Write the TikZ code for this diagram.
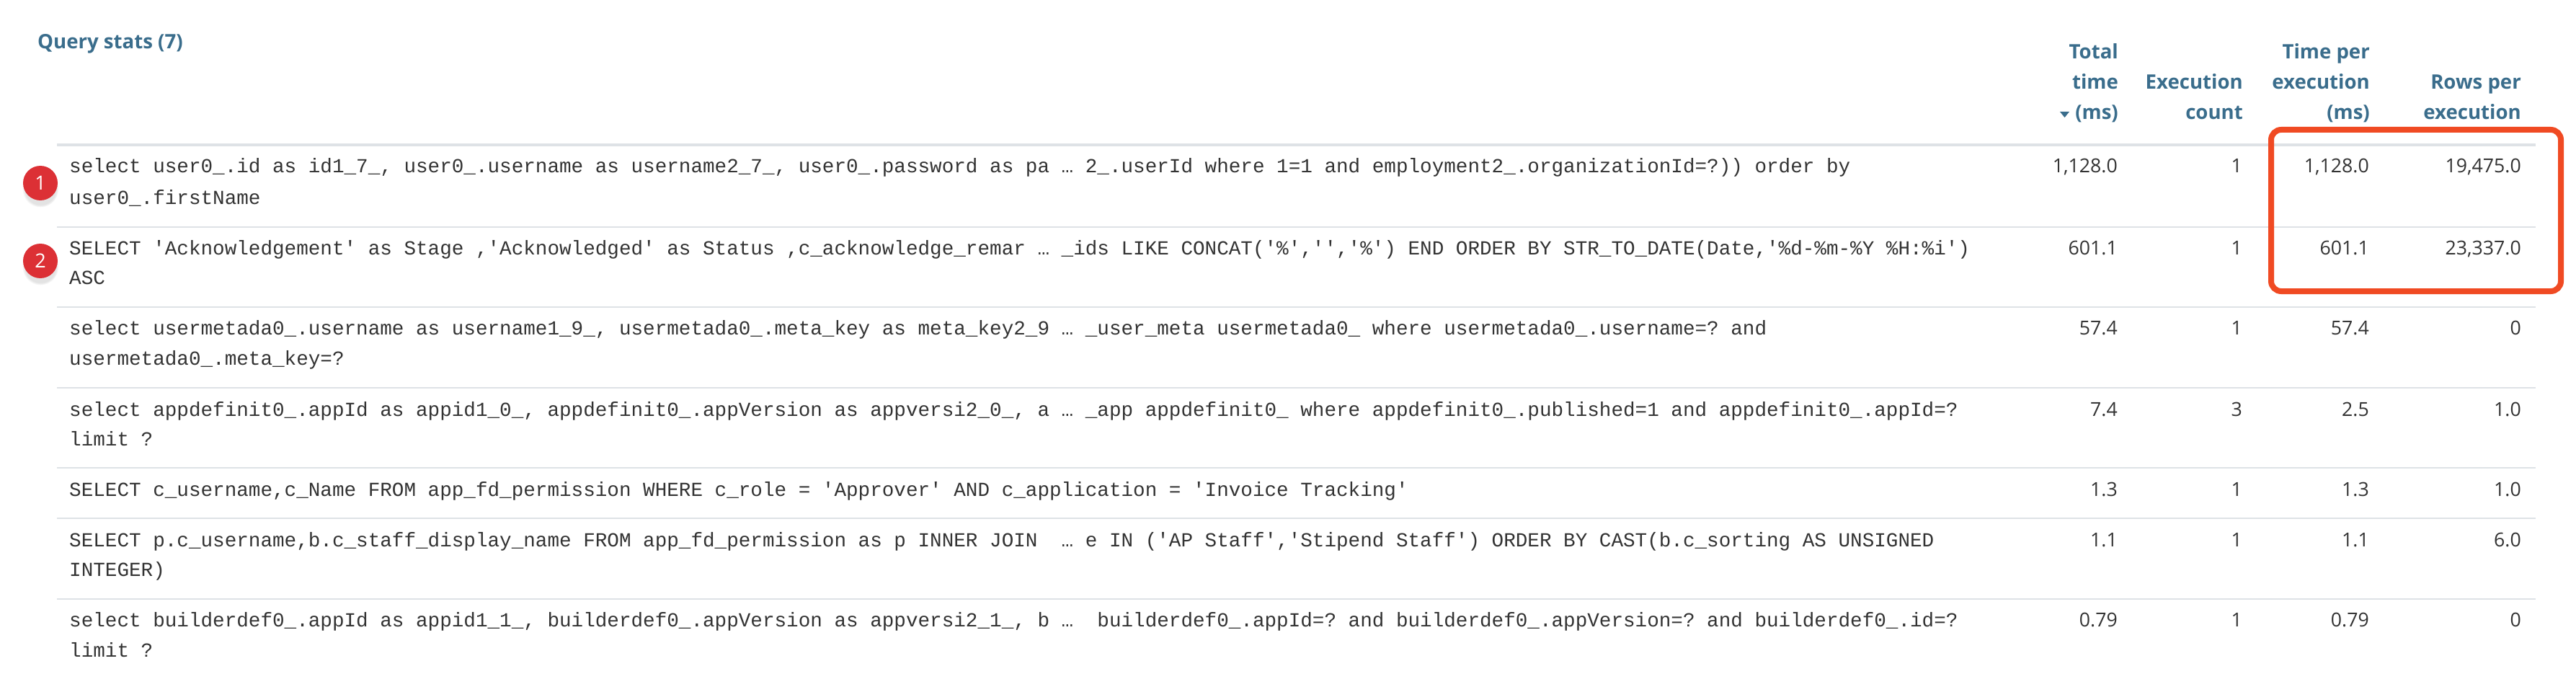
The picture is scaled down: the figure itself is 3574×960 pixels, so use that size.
\documentclass[tikz,border=0pt]{standalone}
\usepackage{fontspec}
\setmainfont{Open Sans}
\setmonofont[Ligatures=NoCommon]{Liberation Mono}
\usetikzlibrary{shadows}
\definecolor{headblue}{HTML}{3A6D8C}
\definecolor{rulegrey}{HTML}{DEE2E6}
\definecolor{bodygrey}{HTML}{333333}
\definecolor{boxred}{HTML}{F04A23}
\definecolor{badgered}{HTML}{DC3035}
\tikzset{
  x=1pt,y=-1pt,
  sqltext/.style={anchor=base west,inner sep=0pt,text=bodygrey,font=\fontsize{27.64}{42}\selectfont\ttfamily\frenchspacing},
  numtext/.style={anchor=base east,inner sep=0pt,text=bodygrey,font=\fontsize{26.7}{40}\selectfont},
  headtext/.style={anchor=base east,inner sep=0pt,text=headblue,font=\fontsize{27.6}{40}\selectfont\bfseries},
  thickrule/.style={draw=rulegrey,line width=4pt},
  thinrule/.style={draw=rulegrey,line width=2pt},
  badge/.style={circle,fill=badgered,text=white,inner sep=0pt,minimum size=48pt,font=\fontsize{27}{30}\selectfont,
    circular drop shadow={shadow xshift=0pt,shadow yshift=-8pt,shadow scale=1.05,opacity=.22}},
  highlight/.style={draw=boxred,line width=8pt,rounded corners=14pt},
}
\newcommand{\numrow}[6]{%
  \node[numtext] (n#1a) at (2938,#2) {#3};
  \node[numtext] (n#1b) at (3111,#2) {#4};
  \node[numtext] (n#1c) at (3287,#2) {#5};
  \node[numtext] (n#1d) at (3498,#2) {#6};
}
\begin{document}
\begin{tikzpicture}
\useasboundingbox (0,0) rectangle (3574,960);
\fill[white] (0,0) rectangle (3574,960);

\node[headtext,anchor=base west] (title) at (52,68) {Query stats (7)};

\node[headtext] (h1a) at (2939,82) {Total};
\node[headtext] (h1b) at (2939,124) {time};
\node[headtext] (h1c) at (2939,166) {(ms)};
\fill[headblue] (2858,155) -- (2871,155) -- (2864.5,163) -- cycle;
\node[headtext] (h2a) at (3112,124) {Execution};
\node[headtext] (h2b) at (3112,166) {count};
\node[headtext] (h3a) at (3288,82) {Time per};
\node[headtext] (h3b) at (3288,124) {execution};
\node[headtext] (h3c) at (3288,166) {(ms)};
\node[headtext] (h4a) at (3498,124) {Rows per};
\node[headtext] (h4b) at (3498,166) {execution};

\draw[thickrule] (79,201) -- (3518,201);
\foreach \yy in {315,426,538,649,719,831} \draw[thinrule] (79,\yy) -- (3518,\yy);

\node[sqltext] (r1a) at (96,240) {select user0\_.id as id1\_7\_, user0\_.username as username2\_7\_, user0\_.password as pa … 2\_.userId where 1=1 and employment2\_.organizationId=?)) order by};
\node[sqltext] (r1b) at (96,283) {user0\_.firstName};
\node[sqltext] (r2a) at (96,353) {SELECT 'Acknowledgement' as Stage ,'Acknowledged' as Status ,c\_acknowledge\_remar … \_ids LIKE CONCAT('\%','','\%') END ORDER BY STR\_TO\_DATE(Date,'\%d-\%m-\%Y \%H:\%i')};
\node[sqltext] (r2b) at (96,394) {ASC};
\node[sqltext] (r3a) at (96,464) {select usermetada0\_.username as username1\_9\_, usermetada0\_.meta\_key as meta\_key2\_9 … \_user\_meta usermetada0\_ where usermetada0\_.username=? and};
\node[sqltext] (r3b) at (96,506) {usermetada0\_.meta\_key=?};
\node[sqltext] (r4a) at (96,577) {select appdefinit0\_.appId as appid1\_0\_, appdefinit0\_.appVersion as appversi2\_0\_, a … \_app appdefinit0\_ where appdefinit0\_.published=1 and appdefinit0\_.appId=?};
\node[sqltext] (r4b) at (96,618) {limit ?};
\node[sqltext] (r5a) at (96,688) {SELECT c\_username,c\_Name FROM app\_fd\_permission WHERE c\_role = 'Approver' AND c\_application = 'Invoice Tracking'};
\node[sqltext] (r6a) at (96,758) {SELECT p.c\_username,b.c\_staff\_display\_name FROM app\_fd\_permission as p INNER JOIN~ … e IN ('AP Staff','Stipend Staff') ORDER BY CAST(b.c\_sorting AS UNSIGNED};
\node[sqltext] (r6b) at (96,799) {INTEGER)};
\node[sqltext] (r7a) at (96,869) {select builderdef0\_.appId as appid1\_1\_, builderdef0\_.appVersion as appversi2\_1\_, b … ~builderdef0\_.appId=? and builderdef0\_.appVersion=? and builderdef0\_.id=?};
\node[sqltext] (r7b) at (96,911) {limit ?};

\numrow{1}{240}{1,128.0}{1}{1,128.0}{19,475.0}
\numrow{2}{353}{601.1}{1}{601.1}{23,337.0}
\numrow{3}{464}{57.4}{1}{57.4}{0}
\numrow{4}{577}{7.4}{3}{2.5}{1.0}
\numrow{5}{688}{1.3}{1}{1.3}{1.0}
\numrow{6}{758}{1.1}{1}{1.1}{6.0}
\numrow{7}{869}{0.79}{1}{0.79}{0}

\node[badge] (b1) at (56,254) {1};
\node[badge] (b2) at (56,362) {2};

\draw[highlight] (3151,180) rectangle (3553,404);
\end{tikzpicture}
\end{document}
